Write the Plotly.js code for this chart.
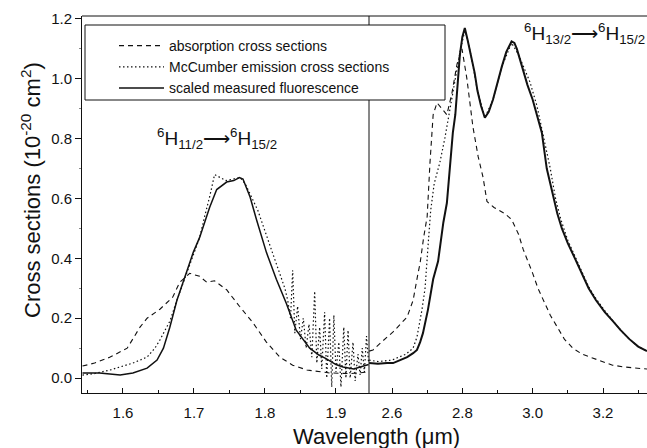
<!DOCTYPE html>
<html>
<head>
<meta charset="utf-8">
<script src="https://cdn.plot.ly/plotly-3.0.1.min.js"></script>
<style>html,body{margin:0;padding:0;background:#fff}#chart{width:647px;height:448px}</style>
</head>
<body>
<div id="chart"></div>
<script>
// ---- data (wavelength in µm, cross section in 1e-20 cm^2) ----
const absLeftX = [1.543,1.560,1.582,1.606,1.624,1.634,1.652,1.670,1.680,1.694,1.708,1.718,1.729,1.746,1.764,1.783,1.802,1.821,1.839,1.859,1.891,1.920,1.946];
const absLeftY = [0.040,0.050,0.070,0.100,0.170,0.200,0.230,0.270,0.320,0.350,0.340,0.320,0.325,0.295,0.240,0.185,0.120,0.070,0.043,0.027,0.017,0.015,0.020];
const absRightX = [2.535,2.546,2.570,2.603,2.643,2.660,2.674,2.680,2.690,2.700,2.708,2.717,2.728,2.742,2.756,2.770,2.785,2.799,2.813,2.830,2.845,2.859,2.870,2.890,2.920,2.940,2.960,2.973,2.987,3.000,3.015,3.030,3.050,3.070,3.090,3.114,3.140,3.170,3.200,3.227,3.260,3.300,3.325];
const absRightY = [0.090,0.094,0.120,0.154,0.204,0.260,0.350,0.385,0.470,0.540,0.720,0.880,0.920,0.900,0.880,0.950,1.050,1.100,1.000,0.840,0.740,0.670,0.590,0.570,0.550,0.530,0.480,0.430,0.390,0.350,0.300,0.260,0.210,0.170,0.130,0.100,0.080,0.067,0.053,0.043,0.037,0.033,0.030];

const mcLeftX = [1.543,1.560,1.582,1.600,1.614,1.634,1.645,1.652,1.666,1.676,1.688,1.700,1.708,1.715,1.722,1.729,1.736,1.745,1.755,1.765,1.772,1.780,1.790,1.806,1.818,1.828,
  1.832,1.836,1.839,1.842,1.846,1.850,1.854,1.858,1.862,1.866,1.870,1.873,1.877,1.880,1.884,1.887,1.891,1.894,1.897,1.900,1.904,1.907,1.911,1.914,1.917,1.920,1.924,1.927,1.931,1.934,1.937,1.940,1.943,1.946];
const mcLeftY = [0.010,0.015,0.027,0.040,0.050,0.070,0.100,0.127,0.190,0.260,0.340,0.420,0.470,0.540,0.605,0.680,0.670,0.660,0.665,0.670,0.650,0.610,0.560,0.450,0.370,0.300,
  0.260,0.200,0.360,0.150,0.240,0.130,0.200,0.100,0.180,0.070,0.290,0.050,0.170,0.030,0.220,0.000,0.200,-0.030,0.210,0.020,0.120,-0.030,0.170,0.000,0.160,0.000,0.120,-0.010,0.080,0.010,0.100,0.020,0.140,0.050];
const mcRightX = [2.535,2.560,2.600,2.640,2.660,2.671,2.685,2.694,2.703,2.710,2.720,2.736,2.750,2.765,2.780,2.795,2.807,2.815,2.826,2.843,2.864,2.887,2.912,2.940,2.960,2.975,2.992,3.012,3.030,3.050,3.065,3.080,3.100,3.120,3.140,3.159,3.180,3.205,3.228,3.250,3.275,3.300,3.325];
const mcRightY = [0.060,0.055,0.060,0.080,0.100,0.137,0.227,0.300,0.450,0.560,0.650,0.720,0.800,0.900,1.000,1.100,1.160,1.130,1.070,0.960,0.870,0.930,1.040,1.120,1.080,1.040,0.990,0.910,0.810,0.700,0.600,0.530,0.460,0.410,0.355,0.305,0.265,0.225,0.190,0.160,0.130,0.105,0.090];

const flLeftX = [1.543,1.567,1.596,1.614,1.634,1.648,1.657,1.666,1.676,1.687,1.699,1.708,1.715,1.722,1.732,1.746,1.756,1.764,1.769,1.779,1.788,1.802,1.816,1.830,1.844,1.863,1.876,1.886,1.900,1.910,1.925,1.946];
const flLeftY = [0.017,0.017,0.010,0.017,0.033,0.060,0.100,0.170,0.260,0.340,0.420,0.470,0.520,0.570,0.630,0.655,0.660,0.670,0.665,0.605,0.530,0.420,0.330,0.250,0.160,0.100,0.077,0.065,0.045,0.037,0.030,0.045];
const flRightX = [2.535,2.560,2.586,2.603,2.623,2.643,2.660,2.671,2.680,2.688,2.702,2.717,2.731,2.738,2.746,2.756,2.765,2.773,2.780,2.786,2.793,2.800,2.807,2.815,2.826,2.835,2.843,2.853,2.864,2.875,2.887,2.900,2.912,2.925,2.940,2.948,2.955,2.965,2.975,2.985,3.000,3.012,3.026,3.040,3.055,3.070,3.083,3.100,3.120,3.140,3.159,3.180,3.205,3.228,3.250,3.275,3.300,3.325];
const flRightY = [0.050,0.048,0.050,0.050,0.060,0.070,0.083,0.094,0.120,0.150,0.227,0.330,0.390,0.460,0.520,0.585,0.700,0.820,0.880,0.970,1.080,1.140,1.170,1.130,1.070,1.020,0.960,0.910,0.870,0.890,0.930,0.990,1.040,1.090,1.125,1.120,1.100,1.060,1.020,0.980,0.930,0.880,0.820,0.700,0.630,0.550,0.500,0.450,0.400,0.350,0.300,0.260,0.220,0.190,0.160,0.130,0.105,0.090];

const leftTicks = [1.6,1.7,1.8,1.9];
const rightTicks = [2.6,2.8,3.0,3.2];
const yTicks = [0.0,0.2,0.4,0.6,0.8,1.0,1.2];
const seriesNames = ['absorption cross sections','McCumber emission cross sections','scaled measured fluorescence'];

// ---- layout helpers (pixel -> paper) ----
const W = 647, H = 448, ML = 82, MR = 0, MT = 16, MB = 55;
const PW = W - ML - MR, PH = H - MT - MB;
const px = v => (v - ML) / PW;
const py = v => (H - MB - v) / PH;
const brk = px(369);
const ink = '#111';
const fontFam = 'Liberation Sans, Arial, sans-serif';

const dashS = '5px,4px', dotS = '1.5px,2.5px';
const traces = [
  {x: absLeftX, y: absLeftY, xaxis: 'x', yaxis: 'y', name: seriesNames[0], legendgroup: 'a', mode: 'lines', line: {color: ink, width: 1.1, dash: dashS}},
  {x: mcLeftX, y: mcLeftY, xaxis: 'x', yaxis: 'y', name: seriesNames[1], legendgroup: 'm', mode: 'lines', line: {color: ink, width: 1.2, dash: dotS}},
  {x: flLeftX, y: flLeftY, xaxis: 'x', yaxis: 'y', name: seriesNames[2], legendgroup: 'f', mode: 'lines', line: {color: ink, width: 1.5}},
  {x: absRightX, y: absRightY, xaxis: 'x2', yaxis: 'y', name: seriesNames[0], legendgroup: 'a', showlegend: false, mode: 'lines', line: {color: ink, width: 1.1, dash: dashS}},
  {x: mcRightX, y: mcRightY, xaxis: 'x2', yaxis: 'y', name: seriesNames[1], legendgroup: 'm', showlegend: false, mode: 'lines', line: {color: ink, width: 1.2, dash: dotS}},
  {x: flRightX, y: flRightY, xaxis: 'x2', yaxis: 'y', name: seriesNames[2], legendgroup: 'f', showlegend: false, mode: 'lines', line: {color: ink, width: 2}}
];

const tickFont = {family: fontFam, size: 15, color: ink};
const xCommon = {
  showline: true, linecolor: ink, linewidth: 1, showgrid: false, zeroline: false,
  ticks: 'inside', ticklen: 5, tickcolor: ink, tickfont: tickFont, tickformat: '.1f',
  anchor: 'y', ticklabelstandoff: 6
};

const layout = {
  width: W, height: H,
  margin: {l: ML, r: MR, t: MT, b: MB, pad: 0},
  paper_bgcolor: '#fff', plot_bgcolor: '#fff',
  font: {family: fontFam, color: ink},
  xaxis: Object.assign({}, xCommon, {domain: [0, brk], range: [1.5423, 1.9465], tickvals: leftTicks,
    minor: {dtick: 0.05, tick0: 1.55, ticks: 'inside', ticklen: 3, tickcolor: ink}}),
  xaxis2: Object.assign({}, xCommon, {domain: [brk, 1], range: [2.5346, 3.325], tickvals: rightTicks,
    minor: {dtick: 0.1, tick0: 2.5, ticks: 'inside', ticklen: 3, tickcolor: ink}}),
  yaxis: {range: [-0.05, 1.21], showline: true, linecolor: ink, linewidth: 1, showgrid: false, zeroline: false,
    ticks: 'outside', ticklen: 6, tickcolor: ink, tickvals: yTicks, tickformat: '.1f', tickfont: tickFont,
    minor: {dtick: 0.1, tick0: 0.1, ticks: 'outside', ticklen: 2, tickcolor: '#888'}},
  showlegend: true,
  legend: {x: px(114), y: py(30), xanchor: 'left', yanchor: 'top', bgcolor: 'rgba(0,0,0,0)', borderwidth: 0,
    font: {family: fontFam, size: 14, color: ink}, tracegroupgap: 0, itemwidth: 45},
  shapes: [
    {type: 'line', xref: 'paper', yref: 'paper', x0: brk, x1: brk, y0: 0, y1: 1, line: {color: ink, width: 1}, layer: 'below'},
    {type: 'line', xref: 'paper', yref: 'paper', x0: 0, x1: 1, y0: 1, y1: 1, line: {color: ink, width: 1}, layer: 'below'},
    {type: 'rect', xref: 'paper', yref: 'paper', x0: px(85), x1: px(445), y0: py(100), y1: py(25), line: {color: ink, width: 1}, fillcolor: '#fff', layer: 'below'}
  ],
  annotations: [
    {xref: 'paper', yref: 'paper', x: px(376), y: py(437), xanchor: 'center', yanchor: 'middle', showarrow: false,
      text: 'Wavelength (\u03bcm)', font: {family: fontFam, size: 22, color: ink}},
    {xref: 'paper', yref: 'paper', x: px(31), y: py(190), xanchor: 'center', yanchor: 'middle', showarrow: false, textangle: -90,
      text: 'Cross sections (10<sup>-20</sup> cm<sup>2</sup>)', font: {family: fontFam, size: 22, color: ink}},
    {xref: 'paper', yref: 'paper', x: px(217), y: py(138), xanchor: 'center', yanchor: 'middle', showarrow: false,
      text: '<sup>6</sup>H<sub>11/2</sub>\u27f6<sup>6</sup>H<sub>15/2</sub>', font: {family: fontFam, size: 19, color: ink}},
    {xref: 'paper', yref: 'paper', x: px(584), y: py(33), xanchor: 'center', yanchor: 'middle', showarrow: false,
      text: '<sup>6</sup>H<sub>13/2</sub>\u27f6<sup>6</sup>H<sub>15/2</sub>', font: {family: fontFam, size: 19, color: ink}}
  ]
};

Plotly.newPlot('chart', traces, layout, {staticPlot: true, displayModeBar: false});
</script>
</body>
</html>
